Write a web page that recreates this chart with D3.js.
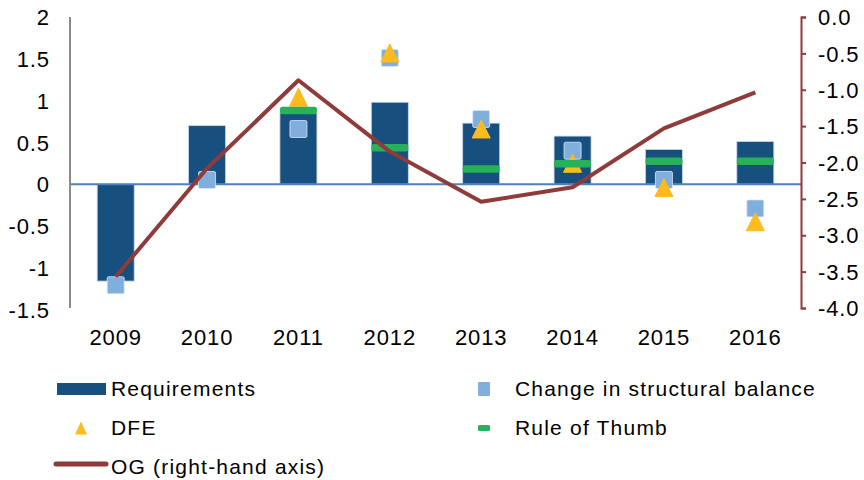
<!DOCTYPE html>
<html>
<head>
<meta charset="utf-8">
<script src="https://cdn.jsdelivr.net/npm/d3@7"></script>
<style>
  html, body { margin: 0; padding: 0; background: #fff; }
  svg { display: block; }
  text { font-family: "Liberation Sans", Arial, sans-serif; fill: #000; }
</style>
</head>
<body>
<svg id="chart" width="864" height="480"></svg>
<script>
const years = ["2009", "2010", "2011", "2012", "2013", "2014", "2015", "2016"];
const requirements = [-1.16, 0.70, 0.85, 0.98, 0.73, 0.575, 0.415, 0.51];
const structuralChange = [-1.21, 0.05, 0.66, 1.51, 0.78, 0.40, 0.05, -0.29];
const dfe = [null, null, 1.04, 1.57, 0.66, 0.25, -0.04, -0.45];
const ruleOfThumb = [null, null, 0.88, 0.435, 0.18, 0.245, 0.275, 0.275];
const og = [-3.57, -2.08, -0.87, -1.85, -2.54, -2.34, -1.53, -1.035];
const leftTicks = [2, 1.5, 1, 0.5, 0, -0.5, -1, -1.5];
const rightTicks = [0, -0.5, -1, -1.5, -2, -2.5, -3, -3.5, -4];
const legendLabels = ["Requirements", "Change in structural balance", "DFE", "Rule of Thumb", "OG (right-hand axis)"];

const C = {
  bar: "#17507f", square: "#80aedd", tri: "#fdbb1e", green: "#28b15b",
  og: "#8f3b3a", zero: "#4f81bd", leftAxis: "#8a8a8a", rightAxis: "#953735"
};
const FS = "21px", LS = "1.2px";
const TFS = "22px", TLS = "0.9px";

const svg = d3.select("#chart");
const X0 = 70, X1 = 801, YT = 17, YB = 309.5;

const x = d3.scaleBand().domain(years).range([X0, X1]).paddingInner(0.595).paddingOuter(0.2975);
const y = d3.scaleLinear().domain([-1.5, 2]).range([YB, YT]);
const y2 = d3.scaleLinear().domain([-4, 0]).range([YB - 1.5, YT]);
const cx = i => x(years[i]) + x.bandwidth() / 2;

const fmt = v => String(v).replace("\u2212", "-");

// Bars
svg.append("g").selectAll("rect").data(requirements).join("rect")
  .attr("x", (d, i) => x(years[i]))
  .attr("width", x.bandwidth())
  .attr("y", d => y(Math.max(0, d)))
  .attr("height", d => Math.abs(y(d) - y(0)))
  .attr("fill", C.bar)
  .attr("stroke", "#c9d7e6").attr("stroke-width", 0.8);

// Zero line
svg.append("line").attr("x1", X0).attr("x2", X1).attr("y1", y(0)).attr("y2", y(0))
  .attr("stroke", C.zero).attr("stroke-width", 2);

// Squares
const sq = 17;
svg.append("g").selectAll("rect").data(structuralChange).join("rect")
  .attr("x", (d, i) => cx(i) - sq / 2)
  .attr("y", d => y(d) - sq / 2)
  .attr("width", sq).attr("height", sq).attr("rx", 1.5)
  .attr("fill", C.square).attr("stroke", "#dce8f4").attr("stroke-width", 0.8);

// Triangles
const tw = 18, th = 18;
const triPath = (px, py, w, h) => `M${px},${py - h / 2}L${px + w / 2},${py + h / 2}L${px - w / 2},${py + h / 2}Z`;
svg.append("g").selectAll("path").data(dfe.map((d, i) => ({ d, i })).filter(o => o.d !== null)).join("path")
  .attr("d", o => triPath(cx(o.i), y(o.d), tw, th))
  .attr("fill", C.tri).attr("stroke", C.tri).attr("stroke-width", 1).attr("stroke-linejoin", "round");

// Rule of thumb
svg.append("g").selectAll("rect").data(ruleOfThumb.map((d, i) => ({ d, i })).filter(o => o.d !== null)).join("rect")
  .attr("x", o => cx(o.i) - 18.5)
  .attr("y", o => y(o.d) - 3.75)
  .attr("width", 37).attr("height", 7.5).attr("rx", 2.5)
  .attr("fill", C.green);

// OG line
svg.append("path").datum(og)
  .attr("d", d3.line().x((d, i) => cx(i)).y(d => y2(d)))
  .attr("fill", "none").attr("stroke", C.og).attr("stroke-width", 4)
  .attr("stroke-linejoin", "round").attr("stroke-linecap", "butt");

// Left axis
const la = svg.append("g").attr("transform", `translate(${X0},0)`)
  .call(d3.axisLeft(y).tickValues(leftTicks).tickSize(0).tickPadding(20).tickFormat(d => fmt(d)));
la.select(".domain").remove();
la.selectAll("text").style("font-size", TFS).style("letter-spacing", TLS).attr("dy", "0.35em").attr("font-family", null);
svg.append("line").attr("x1", X0).attr("x2", X0).attr("y1", YT).attr("y2", YB - 1.5)
  .attr("stroke", C.leftAxis).attr("stroke-width", 2);

// Right axis
const ra = svg.append("g").attr("transform", `translate(${X1},0)`)
  .call(d3.axisRight(y2).tickValues(rightTicks).tickSize(5).tickSizeOuter(5).tickPadding(12)
    .tickFormat(d => d3.format(".1f")(d).replace("\u2212", "-")));
ra.select(".domain").attr("stroke", C.rightAxis).attr("stroke-width", 2);
ra.selectAll(".tick line").attr("stroke", C.rightAxis).attr("stroke-width", 2);
ra.selectAll("text").style("font-size", TFS).style("letter-spacing", TLS).attr("dy", "0.35em").attr("font-family", null);

// X axis labels
svg.append("g").selectAll("text").data(years).join("text")
  .attr("x", d => x(d) + x.bandwidth() / 2)
  .attr("y", 337)
  .attr("dy", "0.35em")
  .attr("text-anchor", "middle")
  .style("font-size", TFS).style("letter-spacing", TLS)
  .text(d => d);

// Legend
const lg = svg.append("g");
const rows = [389, 428, 467];
lg.append("rect").attr("x", 57).attr("y", rows[0] - 6).attr("width", 49).attr("height", 12).attr("fill", C.bar);
lg.append("path").attr("d", triPath(81, rows[1], 12, 13)).attr("fill", C.tri);
lg.append("line").attr("x1", 56).attr("x2", 106).attr("y1", rows[2] - 3).attr("y2", rows[2] - 3)
  .attr("stroke", C.og).attr("stroke-width", 5).attr("stroke-linecap", "round");
lg.append("rect").attr("x", 478).attr("y", rows[0] - 7).attr("width", 12).attr("height", 14).attr("rx", 1).attr("fill", C.square);
lg.append("rect").attr("x", 478).attr("y", rows[1] - 3).attr("width", 12).attr("height", 6).attr("rx", 1.5).attr("fill", C.green);

const legendPos = [[111, rows[0]], [515, rows[0]], [111, rows[1]], [515, rows[1]], [111, rows[2]]];
lg.selectAll("text").data(legendLabels).join("text")
  .attr("x", (d, i) => legendPos[i][0])
  .attr("y", (d, i) => legendPos[i][1])
  .attr("dy", "0.35em")
  .style("font-size", FS).style("letter-spacing", LS)
  .text(d => d);
</script>
</body>
</html>
